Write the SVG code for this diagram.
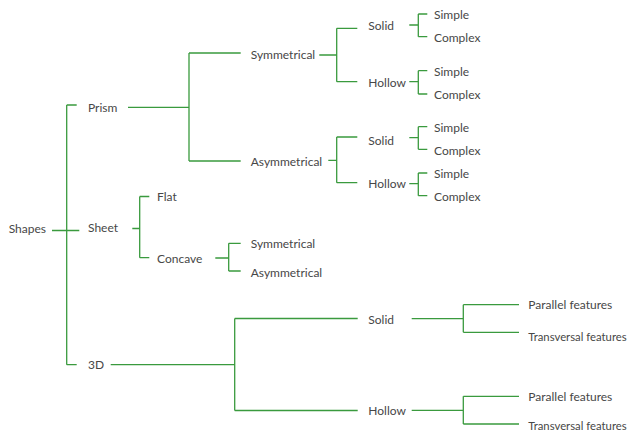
<svg xmlns="http://www.w3.org/2000/svg" width="631" height="434" viewBox="0 0 631 434">
<style>
.c{fill:none;stroke:#3a9a3e;stroke-width:1.3}
text{font-family:"Lato","Liberation Sans",sans-serif;font-size:12px;fill:#474747;dominant-baseline:central}
.t{font-size:11.3px}
</style>
<rect width="631" height="434" fill="#fff"/>
<g id="connectors">
<path class="c" d="M52 230.5H79.3M66.7 105V364.7M66.7 105H76.7M66.7 364.7H76.7"/>
<path class="c" d="M128 107.3H189M189 53V161M189 53H240.7M189 161H240.7"/>
<path class="c" d="M132.3 228.5H139.7M139.7 196.5V257.7M139.7 196.5H149.3M139.7 257.7H149.3"/>
<path class="c" d="M215.3 258H228.7M228.7 243.3V271M228.7 243.3H240.7M228.7 271H240.7"/>
<path class="c" d="M110.7 364.7H234.7M234.7 318.5V410.5M234.7 318.5H357.7M234.7 410.5H357.7"/>
<path class="c" d="M319.3 55H336.7M336.7 28.3V81.7M336.7 28.3H357.3M336.7 81.7H357.3"/>
<path class="c" d="M328.3 160.3H336.7M336.7 137V182.7M336.7 137H357.3M336.7 182.7H357.3"/>
<path class="c" d="M409.3 25H418.3M418.3 14V36.7M418.3 14H427.3M418.3 36.7H427.3"/>
<path class="c" d="M409.3 81.7H418.3M418.3 70.7V94M418.3 70.7H427.3M418.3 94H427.3"/>
<path class="c" d="M409.3 137.7H418.3M418.3 126.7V149.3M418.3 126.7H427.3M418.3 149.3H427.3"/>
<path class="c" d="M409.3 183.7H418.3M418.3 173V195.7M418.3 173H427.3M418.3 195.7H427.3"/>
<path class="c" d="M411.7 318.7H463.3M463.3 304.7V332.3M463.3 304.7H519M463.3 332.3H519"/>
<path class="c" d="M411.7 410.3H463.3M463.3 396.3V424M463.3 396.3H519M463.3 424H519"/>
</g>
<g id="n-shapes"><text x="8.7" y="228">Shapes</text></g>
<g id="n-prism"><text x="88" y="107">Prism</text></g>
<g id="n-sheet"><text x="88" y="227.5">Sheet</text></g>
<g id="n-3d"><text x="88" y="364.5">3D</text></g>
<g id="n-prism-sym"><text x="250.7" y="54">Symmetrical</text></g>
<g id="n-prism-asym"><text x="250.7" y="161">Asymmetrical</text></g>
<g id="n-flat"><text x="157" y="196.5">Flat</text></g>
<g id="n-concave"><text x="157" y="258">Concave</text></g>
<g id="n-concave-sym"><text x="250.7" y="243">Symmetrical</text></g>
<g id="n-concave-asym"><text x="250.7" y="272">Asymmetrical</text></g>
<g id="n-sym-solid"><text x="368.3" y="25.5">Solid</text></g>
<g id="n-sym-hollow"><text x="368.3" y="82">Hollow</text></g>
<g id="n-asym-solid"><text x="368.3" y="140">Solid</text></g>
<g id="n-asym-hollow"><text x="368.3" y="183.5">Hollow</text></g>
<g id="n-s1"><text x="434" y="14.5">Simple</text></g>
<g id="n-c1"><text x="434" y="37">Complex</text></g>
<g id="n-s2"><text x="434" y="71.5">Simple</text></g>
<g id="n-c2"><text x="434" y="94">Complex</text></g>
<g id="n-s3"><text x="434" y="127.5">Simple</text></g>
<g id="n-c3"><text x="434" y="150">Complex</text></g>
<g id="n-s4"><text x="434" y="173.5">Simple</text></g>
<g id="n-c4"><text x="434" y="196">Complex</text></g>
<g id="n-3d-solid"><text x="368.3" y="319">Solid</text></g>
<g id="n-3d-hollow"><text x="368.3" y="410">Hollow</text></g>
<g id="n-p1"><text x="528.3" y="304.5">Parallel features</text></g>
<g id="n-t1"><text class="t" x="528.3" y="336">Transversal features</text></g>
<g id="n-p2"><text x="528.3" y="396">Parallel features</text></g>
<g id="n-t2"><text class="t" x="528.3" y="425">Transversal features</text></g>
</svg>
